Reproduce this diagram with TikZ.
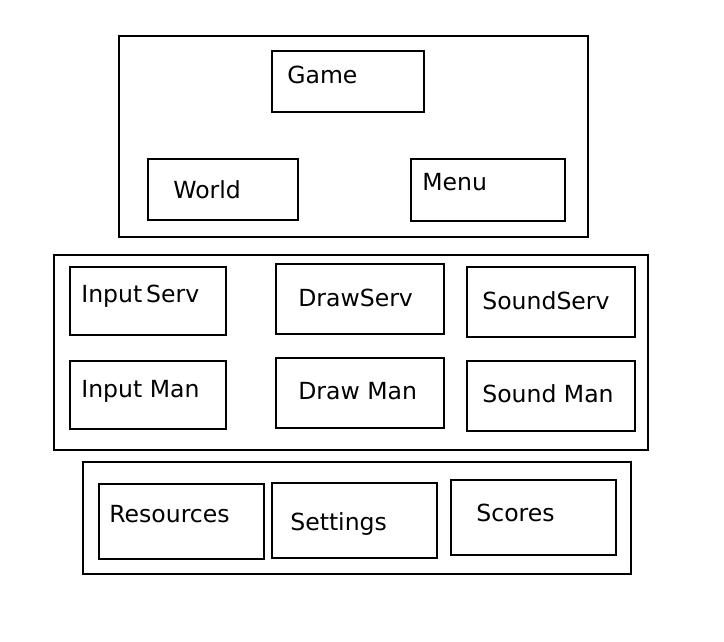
\documentclass[tikz,border=0pt]{standalone}
\usepackage{fontspec}
\setmainfont{DejaVu Sans}
\tikzset{
  box/.style={draw, line width=1.1pt, anchor=north west, inner sep=0pt},
  lbl/.style={anchor=base west, inner sep=0pt, font=\fontsize{13.4}{16}\selectfont}
}
\begin{document}
\begin{tikzpicture}[x=0.02cm, y=-0.02cm]
\useasboundingbox (1,1) rectangle (725,643);
\node[box, minimum width=469*0.02cm, minimum height=201*0.02cm] (top) at (119,36) {};
\node[box, minimum width=152*0.02cm, minimum height=61*0.02cm] (game) at (272,51) {};
\node[box, minimum width=150*0.02cm, minimum height=61*0.02cm] (world) at (148,159) {};
\node[box, minimum width=154*0.02cm, minimum height=62*0.02cm] (menu) at (411,159) {};
\node[lbl] (gameT) at (288,85) {Game};
\node[lbl] (worldT) at (174,199) {World};
\node[lbl] (menuT) at (423,192) {Menu};

\node[box, minimum width=594*0.02cm, minimum height=195*0.02cm] (mid) at (54,255) {};
\node[box, minimum width=156*0.02cm, minimum height=68*0.02cm] (inserv) at (70,267) {};
\node[box, minimum width=168*0.02cm, minimum height=70*0.02cm] (drawserv) at (276,264) {};
\node[box, minimum width=168*0.02cm, minimum height=70*0.02cm] (soundserv) at (467,267) {};
\node[box, minimum width=156*0.02cm, minimum height=68*0.02cm] (inman) at (70,361) {};
\node[box, minimum width=168*0.02cm, minimum height=70*0.02cm] (drawman) at (276,358) {};
\node[box, minimum width=168*0.02cm, minimum height=70*0.02cm] (soundman) at (467,361) {};
\node[lbl] (inservT) at (82,303) {Input\,Serv};
\node[lbl] (drawservT) at (299,307) {DrawServ};
\node[lbl] (soundservT) at (483,310) {SoundServ};
\node[lbl] (inmanT) at (82,398) {Input Man};
\node[lbl] (drawmanT) at (299,400) {Draw Man};
\node[lbl] (soundmanT) at (483,403) {Sound Man};

\node[box, minimum width=548*0.02cm, minimum height=112*0.02cm] (bot) at (83,462) {};
\node[box, minimum width=165*0.02cm, minimum height=75*0.02cm] (res) at (99,484) {};
\node[box, minimum width=165*0.02cm, minimum height=75*0.02cm] (set) at (272,483) {};
\node[box, minimum width=165*0.02cm, minimum height=75*0.02cm] (sco) at (451,480) {};
\node[lbl] (resT) at (110,523) {Resources};
\node[lbl] (setT) at (291,531) {Settings};
\node[lbl] (scoT) at (477,522) {Scores};
\end{tikzpicture}
\end{document}
